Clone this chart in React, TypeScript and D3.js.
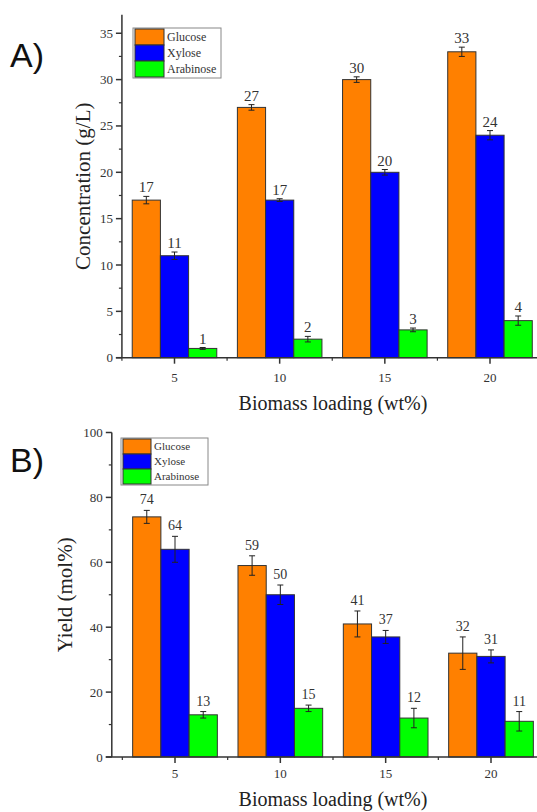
import React from "react";
import * as d3 from "d3";

const loadings = [5, 10, 15, 20];
const series = ["Glucose", "Xylose", "Arabinose"];
const colors = ["#FF8000", "#0000FF", "#00FF00"];

const concGlucose = [17, 27, 30, 33];
const concXylose = [11, 17, 20, 24];
const concArabinose = [1, 2, 3, 4];
const concGlucoseErr = [0.4, 0.3, 0.3, 0.5];
const concXyloseErr = [0.4, 0.15, 0.3, 0.5];
const concArabinoseErr = [0.1, 0.3, 0.2, 0.5];

const yieldGlucose = [74, 59, 41, 32];
const yieldXylose = [64, 50, 37, 31];
const yieldArabinose = [13, 15, 12, 11];
const yieldGlucoseErr = [2, 3, 4, 5];
const yieldXyloseErr = [4, 3, 2, 2];
const yieldArabinoseErr = [1, 1, 3, 3];

const concTicks = [0, 5, 10, 15, 20, 25, 30, 35];
const yieldTicks = [0, 20, 40, 60, 80, 100];

const SERIF = "'Liberation Serif', 'DejaVu Serif', serif";
const SANS = "'Liberation Sans', Arial, sans-serif";
const AX = "#333";

type PanelProps = {
  label: string;
  labelY: number;
  values: number[][];
  errs: number[][];
  yDomain: [number, number];
  yRange: [number, number];
  yTicks: number[];
  yMinorStep: number;
  xDomainStart: number;
  xAt5: number;
  xAt20: number;
  yLabel: string;
  yLabelX: number;
  yLabelFs: number;
  xLabelY: number;
  tickLabelY: number;
  legend: { x: number; y: number; w: number; rowH: number; sw: number; fs: number };
  valueFs: number;
  valueGap: number;
};

function Panel(p: PanelProps) {
  const pxPerUnit = (p.xAt20 - p.xAt5) / 15;
  const x = d3
    .scaleLinear()
    .domain([5, 20])
    .range([p.xAt5, p.xAt20]);
  const y = d3.scaleLinear().domain(p.yDomain).range(p.yRange);
  const axisX = x(p.xDomainStart);
  const y0 = y(0);
  const barW = 1.34 * pxPerUnit;
  const minorX = d3.range(2.5, 22.5, 5).filter((v) => x(v) >= axisX - 0.5);
  const minorY = d3
    .range(0, p.yDomain[1] + 0.001, p.yMinorStep)
    .filter((v) => !p.yTicks.includes(v));

  return (
    <g>
      <text x={10} y={p.labelY} fontFamily={SANS} fontSize={34} fill="#111">
        {p.label}
      </text>
      {loadings.map((l, i) =>
        series.map((s, j) => {
          const v = p.values[j][i];
          const e = p.errs[j][i];
          const bx = x(l) + (j - 1.5) * barW;
          const cx = bx + barW / 2;
          return (
            <g key={s + l}>
              <rect
                x={bx}
                y={y(v)}
                width={barW}
                height={y0 - y(v)}
                fill={colors[j]}
                stroke="#333"
                strokeWidth={1}
              />
              <line x1={cx} x2={cx} y1={y(v + e)} y2={y(v - e)} stroke="#222" strokeWidth={1} />
              <line x1={cx - 3} x2={cx + 3} y1={y(v + e)} y2={y(v + e)} stroke="#222" strokeWidth={1} />
              <line x1={cx - 3} x2={cx + 3} y1={y(v - e)} y2={y(v - e)} stroke="#222" strokeWidth={1} />
              <text
                x={cx}
                y={y(v + e) - p.valueGap}
                textAnchor="middle"
                fontFamily={SERIF}
                fontSize={p.valueFs}
                fill="#333"
              >
                {v}
              </text>
            </g>
          );
        })
      )}
      <line x1={axisX} x2={axisX} y1={p.yRange[1]} y2={y0} stroke={AX} strokeWidth={1.5} />
      {p.yTicks.map((t) => (
        <g key={"yt" + t}>
          <line x1={axisX - 6} x2={axisX} y1={y(t)} y2={y(t)} stroke={AX} strokeWidth={1.5} />
          <text
            x={axisX - 9}
            y={y(t) + 4.5}
            textAnchor="end"
            fontFamily={SERIF}
            fontSize={13}
            fill="#333"
          >
            {t}
          </text>
        </g>
      ))}
      {minorY.map((t) => (
        <line key={"ym" + t} x1={axisX - 3} x2={axisX} y1={y(t)} y2={y(t)} stroke={AX} strokeWidth={1.2} />
      ))}
      <line x1={axisX - 6} x2={537} y1={y0} y2={y0} stroke={AX} strokeWidth={1.5} />
      {loadings.map((l) => (
        <g key={"xt" + l}>
          <line x1={x(l)} x2={x(l)} y1={y0} y2={y0 + 6} stroke={AX} strokeWidth={1.5} />
          <text x={x(l)} y={p.tickLabelY} textAnchor="middle" fontFamily={SERIF} fontSize={13} fill="#333">
            {l}
          </text>
        </g>
      ))}
      {minorX.map((v) => (
        <line key={"xm" + v} x1={x(v)} x2={x(v)} y1={y0} y2={y0 + 3} stroke={AX} strokeWidth={1.2} />
      ))}
      <text
        x={333}
        y={p.xLabelY}
        textAnchor="middle"
        fontFamily={SERIF}
        fontSize={20}
        fill="#222"
      >
        Biomass loading (wt%)
      </text>
      <text
        transform={`translate(${p.yLabelX},${(p.yRange[1] + y0) / 2}) rotate(-90)`}
        textAnchor="middle"
        fontFamily={SERIF}
        fontSize={p.yLabelFs}
        fill="#222"
      >
        {p.yLabel}
      </text>
      <g>
        <rect
          x={p.legend.x}
          y={p.legend.y}
          width={p.legend.w}
          height={p.legend.rowH * 3 + 2}
          fill="white"
          stroke="#888"
          strokeWidth={1}
        />
        {series.map((s, j) => (
          <g key={"lg" + s}>
            <rect
              x={p.legend.x + 2}
              y={p.legend.y + 1 + j * p.legend.rowH}
              width={p.legend.sw}
              height={p.legend.rowH}
              fill={colors[j]}
              stroke="#333"
              strokeWidth={1}
            />
            <text
              x={p.legend.x + p.legend.sw + 5}
              y={p.legend.y + 1 + j * p.legend.rowH + p.legend.rowH * 0.72}
              fontFamily={SERIF}
              fontSize={p.legend.fs}
              fill="#333"
            >
              {s}
            </text>
          </g>
        ))}
      </g>
    </g>
  );
}

export default function App() {
  return (
    <svg
      width={537}
      height={812}
      style={{ position: "absolute", left: 0, top: 0, background: "white" }}
    >
      <rect x={0} y={0} width={537} height={812} fill="white" />
      <Panel
        label="A)"
        labelY={67}
        values={[concGlucose, concXylose, concArabinose]}
        errs={[concGlucoseErr, concXyloseErr, concArabinoseErr]}
        yDomain={[0, 37]}
        yRange={[357.7, 357.7 - 37 * 9.27]}
        yTicks={concTicks}
        yMinorStep={2.5}
        xDomainStart={2.5}
        xAt5={174.5}
        xAt20={490}
        yLabel="Concentration (g/L)"
        yLabelX={90}
        yLabelFs={21}
        xLabelY={410}
        tickLabelY={382}
        legend={{ x: 133, y: 28, w: 88, rowH: 16, sw: 29, fs: 12 }}
        valueFs={15}
        valueGap={4}
      />
      <Panel
        label="B)"
        labelY={472}
        values={[yieldGlucose, yieldXylose, yieldArabinose]}
        errs={[yieldGlucoseErr, yieldXyloseErr, yieldArabinoseErr]}
        yDomain={[0, 100]}
        yRange={[757, 432.5]}
        yTicks={yieldTicks}
        yMinorStep={10}
        xDomainStart={2.0}
        xAt5={175}
        xAt20={491}
        yLabel="Yield (mol%)"
        yLabelX={72}
        yLabelFs={21}
        xLabelY={806}
        tickLabelY={778}
        legend={{ x: 121, y: 438, w: 87, rowH: 15, sw: 28, fs: 11 }}
        valueFs={14}
        valueGap={6}
      />
    </svg>
  );
}
